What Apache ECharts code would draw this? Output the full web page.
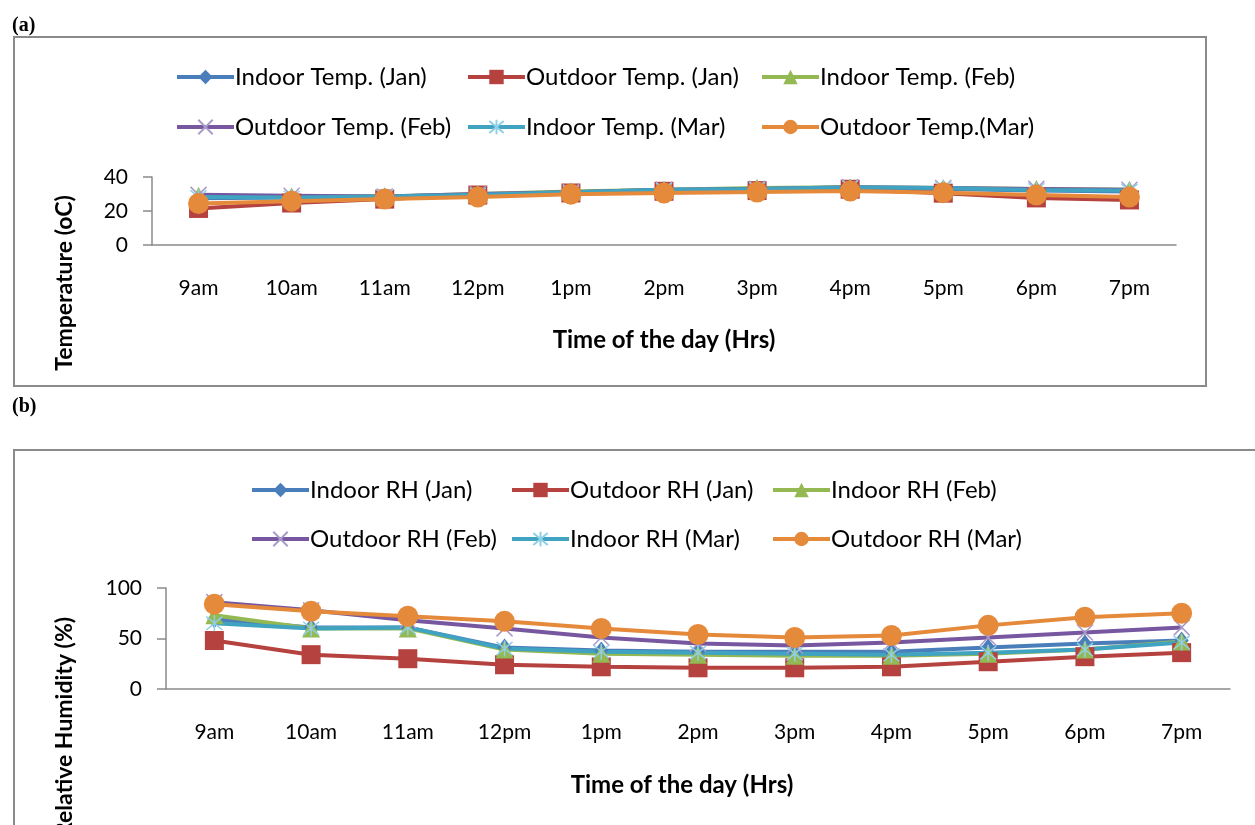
<!DOCTYPE html>
<html><head><meta charset="utf-8">
<script src="https://cdn.jsdelivr.net/npm/echarts@6/dist/echarts.min.js"></script>
<style>html,body{margin:0;padding:0;background:#fff}#c{width:1255px;height:825px}</style>
</head><body><div id="c"></div><script>
// ---- data ----
const hours = ['9am','10am','11am','12pm','1pm','2pm','3pm','4pm','5pm','6pm','7pm'];
const tempNames = ['Indoor Temp. (Jan)','Outdoor Temp. (Jan)','Indoor Temp. (Feb)','Outdoor Temp. (Feb)','Indoor Temp. (Mar)','Outdoor Temp.(Mar)'];
const rhNames = ['Indoor RH (Jan)','Outdoor RH (Jan)','Indoor RH (Feb)','Outdoor RH (Feb)','Indoor RH (Mar)','Outdoor RH (Mar)'];
const indoorTempJan  = [27.5, 28, 28.5, 29.5, 31, 32, 33, 33.5, 33, 32, 31.5];
const outdoorTempJan = [21.5, 24.7, 27, 29.4, 30.6, 31.6, 32, 32.8, 30.5, 27.7, 26.5];
const indoorTempFeb  = [29, 28.5, 28.5, 30, 31.5, 32.5, 33.5, 34, 33.5, 33, 32.5];
const outdoorTempFeb = [29.5, 29, 28.5, 30, 31, 32.5, 33, 34, 33.5, 33, 32.5];
const indoorTempMar  = [28.2, 28, 28.5, 29.5, 31, 32.5, 33, 34, 33.5, 32.4, 32];
const outdoorTempMar = [24.4, 25.8, 27, 28.2, 29.9, 30.6, 31.2, 31.7, 30.8, 29.4, 28.2];
const indoorRHJan  = [69, 61, 61, 41, 38, 37, 37, 37, 41, 45, 48];
const outdoorRHJan = [48, 34, 30, 24, 22, 21, 21, 22, 27, 32, 36];
const indoorRHFeb  = [73, 60, 60, 39, 35, 34, 33, 33, 35, 39, 47];
const outdoorRHFeb = [86, 78, 68, 60, 51, 45, 43, 46, 51, 56, 61];
const indoorRHMar  = [65, 60, 61, 40, 37, 36, 35, 34, 36, 39, 46];
const outdoorRHMar = [84, 77, 72, 67, 60, 54, 51, 53, 63, 71, 75];
const tempTicks = {min: 0, max: 40, interval: 20};
const rhTicks = {min: 0, max: 100, interval: 50};

// ---- styles ----
const FONT = 'Lato';
const colors = ['#4A7EBB','#B5423F','#94B852','#7657A0','#3FA3C1','#E5893B'];
const xPath = 'path://M0,0L10,10M10,0L0,10';
const starPath = 'path://M0,0L10,10M10,0L0,10M5,-1L5,11';
const symbols = [
  {symbol:'diamond', size:[14,18]},
  {symbol:'rect', size:19},
  {symbol:'triangle', size:18},
  {symbol:xPath, size:16, stroke:true, sc:'#A99BC9'},
  {symbol:starPath, size:16, stroke:true, sc:'#8FD0E6'},
  {symbol:'circle', size:21}
];

function makeSeries(names, datas, axisIdx){
  return names.map((n,i)=>{
    const s = symbols[i];
    return {
      name:n, type:'line', data:datas[i], xAxisIndex:axisIdx, yAxisIndex:axisIdx,
      symbol:s.symbol, symbolSize:s.size, showAllSymbol:true,
      lineStyle:{width:4, color:colors[i]},
      itemStyle: s.stroke ? {color:colors[i], borderColor:s.sc, borderWidth:1.5}
                          : {color:colors[i], borderWidth:0},
      emphasis:{disabled:true}, animation:false
    };
  });
}

const legendPosTop = [[175,65],[466,65],[760,65],[175,115],[466,115],[760,115]];
const legendPosBot = [[250,478],[510,478],[771,478],[250,527],[510,527],[771,527]];
function makeLegends(names, pos){
  return names.map((n,i)=>({
    data:[n], left:pos[i][0], top:pos[i][1], itemWidth:57, itemHeight:18, itemGap:0,
    selectedMode:false, padding:0,
    lineStyle:{width:4},
    textStyle:{fontFamily:FONT, fontSize:24, color:'#000', padding:[0,0,0,-4]}
  }));
}

const axisLineStyle = {color:'#8a8a8a', width:1.5};
function xAx(gi, gap){
  return {type:'category', gridIndex:gi, data:hours, boundaryGap:true,
    axisLine:{lineStyle:axisLineStyle}, axisTick:{length:8, lineStyle:axisLineStyle},
    axisLabel:{fontFamily:FONT, fontSize:21, color:'#000', margin:33},
    name:'Time of the day (Hrs)', nameLocation:'middle', nameGap:gap,
    nameTextStyle:{fontFamily:FONT, fontSize:24, fontWeight:'bold', color:'#000',
      padding: gi===1 ? [0,32,0,0] : 0}};
}
function yAx(gi, t){
  return {type:'value', gridIndex:gi, min:t.min, max:t.max, interval:t.interval,
    axisLine:{show:true, lineStyle:axisLineStyle}, axisTick:{show:true, length:9, lineStyle:axisLineStyle},
    splitLine:{show:false},
    axisLabel:{fontFamily:FONT, fontSize:21, color:'#000', margin:24}};
}

const chart = echarts.init(document.getElementById('c'), null, {renderer:'canvas'});
chart.setOption({
  backgroundColor:'#fff',
  animation:false,
  grid:[
    {left:152, right:79, top:177, height:68},
    {left:166, right:25, top:588, height:101}
  ],
  xAxis:[xAx(0,83), xAx(1,84)],
  yAxis:[yAx(0,tempTicks), yAx(1,rhTicks)],
  legend:[...makeLegends(tempNames, legendPosTop), ...makeLegends(rhNames, legendPosBot)],
  series:[
    ...makeSeries(tempNames,[indoorTempJan,outdoorTempJan,indoorTempFeb,outdoorTempFeb,indoorTempMar,outdoorTempMar],0),
    ...makeSeries(rhNames,[indoorRHJan,outdoorRHJan,indoorRHFeb,outdoorRHFeb,indoorRHMar,outdoorRHMar],1)
  ],
  graphic:[
    {type:'rect', shape:{x:14, y:37, width:1192, height:349}, style:{fill:null, stroke:'#8a8a8a', lineWidth:2}, silent:true},
    {type:'rect', shape:{x:14, y:450, width:1260, height:400}, style:{fill:null, stroke:'#8a8a8a', lineWidth:2}, silent:true},
    {type:'text', x:12, y:26, style:{text:'(a)', font:'bold 20px "Liberation Serif"', fill:'#000', textVerticalAlign:'middle'}},
    {type:'text', x:12, y:407, style:{text:'(b)', font:'bold 20px "Liberation Serif"', fill:'#000', textVerticalAlign:'middle'}},
    {type:'text', x:65, y:283, rotation:Math.PI/2, style:{text:'Temperature (oC)', font:'bold 23px Lato', fill:'#000', textAlign:'center', textVerticalAlign:'middle'}},
    {type:'text', x:65, y:727, rotation:Math.PI/2, style:{text:'Relative Humidity (%)', font:'bold 23px Lato', fill:'#000', textAlign:'center', textVerticalAlign:'middle'}}
  ]
});
</script></body></html>
